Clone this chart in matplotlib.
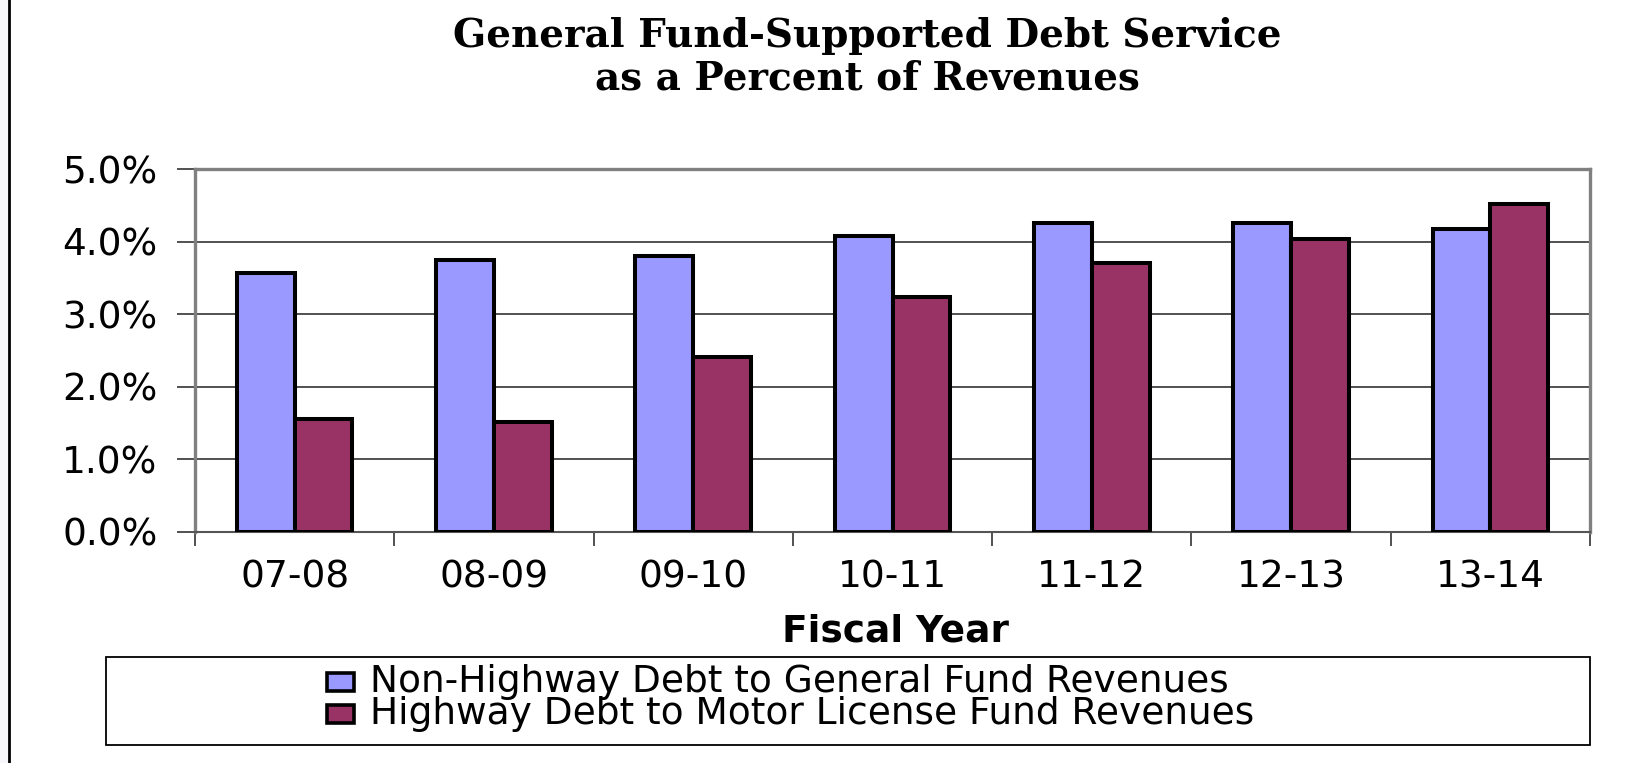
import matplotlib
matplotlib.use("Agg")
import matplotlib.pyplot as plt
import numpy as np
from matplotlib.patches import Rectangle
from matplotlib.ticker import FuncFormatter

categories = ["07-08", "08-09", "09-10", "10-11", "11-12", "12-13", "13-14"]
non_highway = [3.57, 3.75, 3.80, 4.08, 4.26, 4.26, 4.17]
highway = [1.56, 1.51, 2.41, 3.23, 3.71, 4.04, 4.52]
series_names = ["Non-Highway Debt to General Fund Revenues",
                "Highway Debt to Motor License Fund Revenues"]
colors = ["#9999FF", "#993366"]
title_lines = ["General Fund-Supported Debt Service", "as a Percent of Revenues"]
yticks = [0, 1, 2, 3, 4, 5]

W, H = 1648, 763
fig = plt.figure(figsize=(W / 100, H / 100), dpi=100)
fig.patch.set_facecolor("#f7f7fa")

def fx(px):
    return px / W

def fy(py):
    return 1 - py / H

SANS = "DejaVu Sans"

# outer white chart area with black frame
bg = Rectangle((fx(9), fy(H + 20)), fx(W + 40), (H + 28) / H,
               transform=fig.transFigure, facecolor="white",
               edgecolor="black", linewidth=2, zorder=-10)
fig.add_artist(bg)

# axes
left, right, top, bottom = 195, 1590, 169, 531.7
ax = fig.add_axes([fx(left), fy(bottom), fx(right - left), (bottom - top) / H])
ax.set_zorder(5)
ax.set_facecolor("white")
x = np.arange(len(categories))
bw = 0.29
ax.bar(x - bw / 2, non_highway, bw, color=colors[0], edgecolor="black", linewidth=2.9, zorder=3)
ax.bar(x + bw / 2, highway, bw, color=colors[1], edgecolor="black", linewidth=2.9, zorder=3)
ax.set_xlim(-0.5, len(categories) - 0.5)
ax.set_ylim(0, 5)
ax.set_yticks(yticks)
ax.yaxis.set_major_formatter(FuncFormatter(lambda v, p: f"{v:.1f}%"))
for v in yticks[1:-1]:
    ax.axhline(v, color="#222222", linewidth=1.1, zorder=1)

for s in ["top", "right", "left"]:
    ax.spines[s].set_color("#808080")
    ax.spines[s].set_linewidth(2.4)
ax.spines["bottom"].set_color("#555555")
ax.spines["bottom"].set_linewidth(1.5)

ax.set_xticks(x)
ax.set_xticklabels(categories)
ax.set_xticks(np.arange(-0.5, len(categories), 1), minor=True)
ax.tick_params(axis="x", which="major", length=0, pad=20, labelsize=27)
ax.tick_params(axis="x", which="minor", length=10, width=1.2, color="#333333")
ax.tick_params(axis="y", which="major", length=13, width=1.2, color="#333333", pad=14, labelsize=27)
for lab in ax.get_xticklabels() + ax.get_yticklabels():
    lab.set_fontfamily(SANS)

# title
fig.text(fx(867), fy(36), title_lines[0], ha="center", va="center",
         fontfamily="DejaVu Serif", fontweight="bold", fontsize=28)
fig.text(fx(867), fy(79), title_lines[1], ha="center", va="center",
         fontfamily="DejaVu Serif", fontweight="bold", fontsize=28)

# x axis label
fig.text(fx(896), fy(631), "Fiscal Year", ha="center", va="center",
         fontfamily=SANS, fontweight="bold", fontsize=27)

# legend box
fig.add_artist(Rectangle((fx(106), fy(745)), fx(1590 - 106), (745 - 657) / H,
                         transform=fig.transFigure, facecolor="white",
                         edgecolor="black", linewidth=1.3, zorder=1))
rows = [682, 714]
for c, ry in zip(colors, rows):
    fig.add_artist(Rectangle((fx(327), fy(ry + 9)), fx(27), 18 / H,
                             transform=fig.transFigure, facecolor=c,
                             edgecolor="black", linewidth=2.6, zorder=2))
fig.text(fx(370), fy((rows[0] + rows[1]) / 2), "\n".join(series_names),
         ha="left", va="center", fontfamily=SANS, fontsize=27,
         linespacing=0.86, zorder=3)

fig.savefig("out.png", dpi=100, facecolor=fig.get_facecolor())
